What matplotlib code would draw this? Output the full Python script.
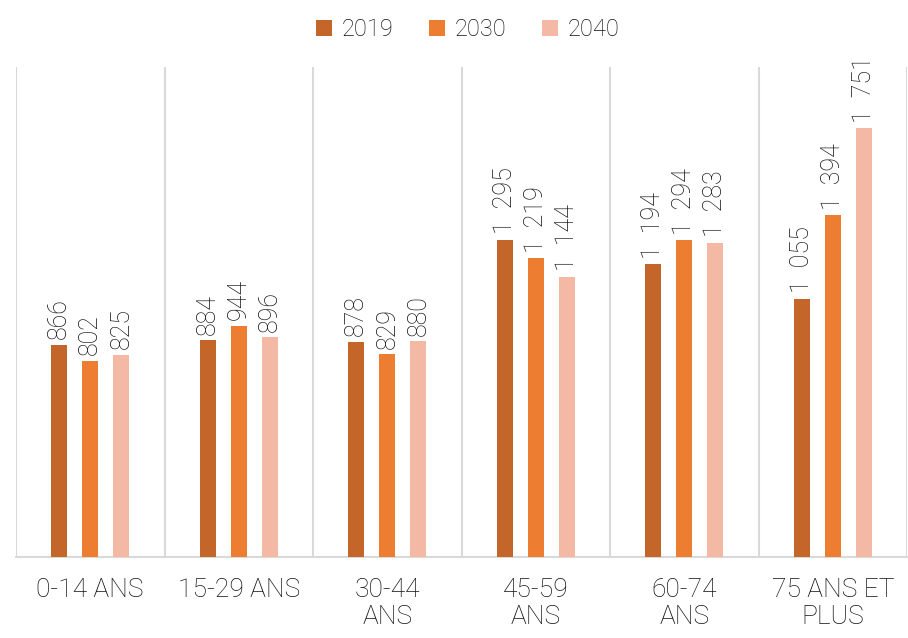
import numpy as np
import matplotlib
matplotlib.use('Agg')
import matplotlib.pyplot as plt

# age groups and population (thousands)
categories = ['0-14 ANS', '15-29 ANS', '30-44\nANS', '45-59\nANS', '60-74\nANS', '75 ANS ET\nPLUS']
years = ['2019', '2030', '2040']
v2019 = [866, 884, 878, 1295, 1194, 1055]
v2030 = [802, 944, 829, 1219, 1294, 1394]
v2040 = [825, 896, 880, 1144, 1283, 1751]
series = [v2019, v2030, v2040]
colors = ['#C4662A', '#ED7D31', '#F4B9A4']

plt.rcParams['font.family'] = ['Roboto', 'DejaVu Sans']

fig = plt.figure(figsize=(9.08, 6.38), dpi=100)
ax = fig.add_axes([16 / 908, 81 / 638, 891 / 908, 490 / 638])

x = np.arange(len(categories))
width = 0.108
step = 0.209

def fmt(v):
	return '{:,}'.format(v).replace(',', '  ')

for i, (vals, col, yr) in enumerate(zip(series, colors, years)):
	pos = x + (i - 1) * step
	ax.bar(pos, vals, width=width, color=col, label=yr, zorder=3)
	for p, v in zip(pos, vals):
		ax.text(p, v + 22, fmt(v), rotation=90, ha='center', va='bottom',
				fontsize=18, color='#111111', fontweight='light')

# category separators
for b in np.arange(-0.5, len(categories) + 0.5, 1.0):
	ax.axvline(b, color='#d9d9d9', lw=1.5, zorder=1)

ax.set_xlim(-0.5, len(categories) - 0.5)
ax.set_ylim(0, 2000)
ax.set_yticks([])
ax.set_xticks(x)
ax.set_xticklabels(categories, fontsize=19, color='#111111', fontweight='light',
				linespacing=1.15)
ax.tick_params(axis='x', length=0, pad=15)
for s in ['top', 'right', 'left']:
	ax.spines[s].set_visible(False)
ax.spines['bottom'].set_color('#d9d9d9')
ax.spines['bottom'].set_linewidth(1.5)

leg = fig.legend(loc='upper center', bbox_to_anchor=(0.515, 1.005), ncol=3,
				frameon=False, fontsize=17, handlelength=0.7, handleheight=0.7,
				handletextpad=0.4, columnspacing=1.5,
				prop={'size': 17, 'weight': 'light'})
for t in leg.get_texts():
	t.set_color('#111111')

plt.savefig('out.png', dpi=100)
plt.close()
